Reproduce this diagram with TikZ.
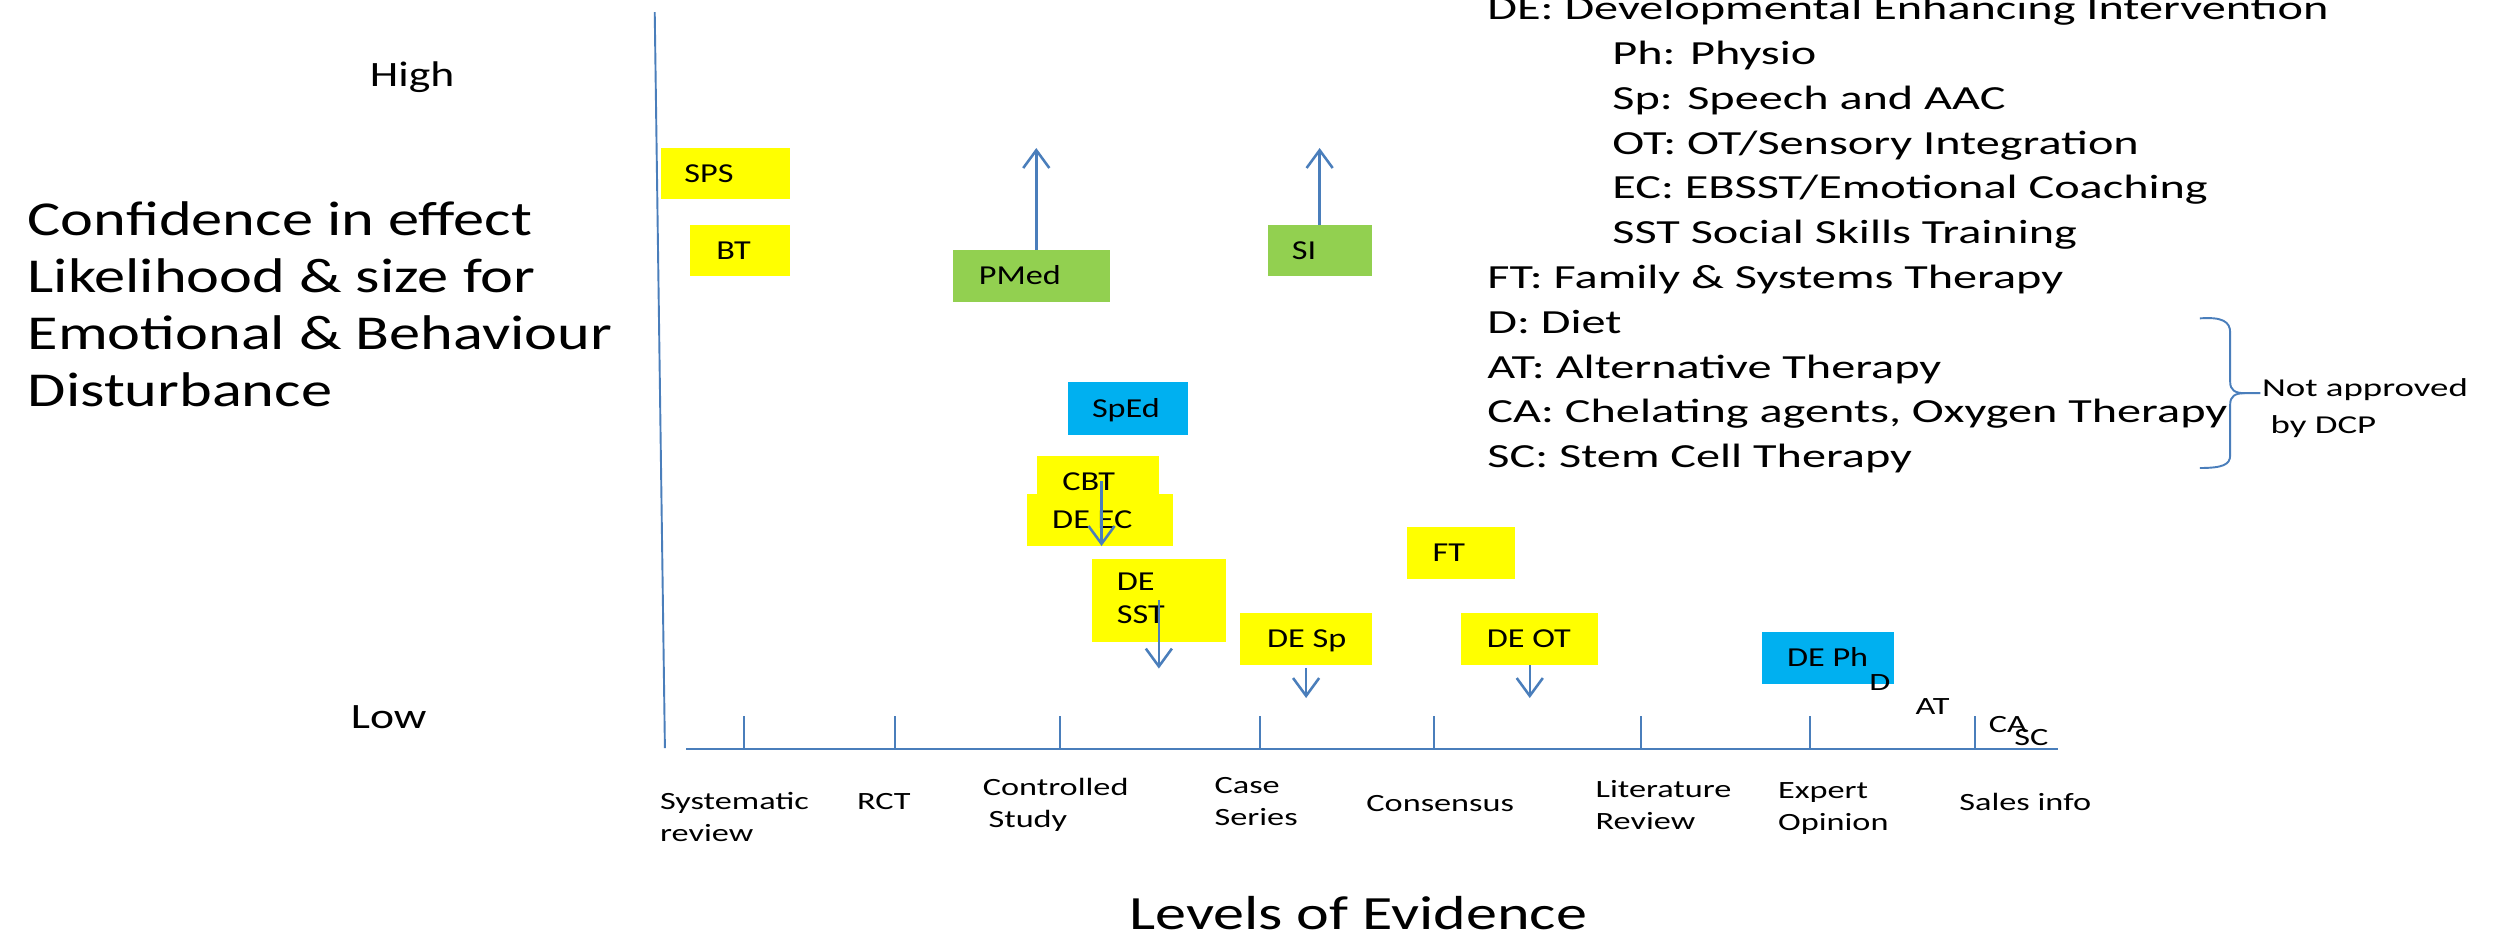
\documentclass[tikz,border=0pt]{standalone}
\usepackage{fontspec}
\setmainfont{Carlito}
% widened faces for the different text groups
\newfontfamily\fbx[FakeStretch=1.25]{Carlito}
\newfontfamily\fax[FakeStretch=1.38]{Carlito}
\newfontfamily\flg[FakeStretch=1.43]{Carlito}
\newfontfamily\fyl[FakeStretch=1.28]{Carlito}
\newfontfamily\fev[FakeStretch=1.3]{Carlito}
\usetikzlibrary{arrows.meta}

\definecolor{axisblue}{RGB}{74,126,187}
\definecolor{ylw}{RGB}{255,255,0}
\definecolor{grn}{RGB}{146,208,80}
\definecolor{cyn}{RGB}{0,176,240}

% fixed-width box content: left offset, then the label
\newcommand\boxtext[3]{\makebox[#1][l]{\hspace*{#2}#3}}
\newcommand\twolines[2]{\begin{tabular}[t]{@{}l@{}}#1\\#2\end{tabular}}

\tikzset{
  ibox/.style={anchor=north west, inner sep=0pt, outer sep=0pt,
    text height=5.5pt, text depth=0pt, font=\fbx\fontsize{8.6}{10.5}\selectfont},
  axisline/.style={draw=axisblue, line width=0.9pt},
  vaxisline/.style={draw=axisblue, line width=0.6pt},
  tickline/.style={draw=axisblue, line width=0.6pt},
  effarrow/.style={draw=axisblue, line width=0.8pt,
    -{Straight Barb[length=5.6pt,width=8.2pt]}},
  bracepath/.style={draw=axisblue, line width=0.6pt},
  evlabel/.style={anchor=base west, inner sep=0pt, font=\fax\fontsize{7.8}{10}\selectfont},
  ylabel/.style={anchor=base west, inner sep=0pt, font=\fyl\fontsize{11.2}{13}\selectfont},
  legendtext/.style={anchor=base west, inner sep=0pt, font=\flg\fontsize{10.6}{14.075}\selectfont},
}

\begin{document}
\begin{tikzpicture}[x=0.5pt, y=-0.5pt]
\useasboundingbox (0,0) rectangle (1568,593);
\fill[white] (0,0) rectangle (1568,593);

% ---- axes ----
\coordinate (vtop) at (411.3,7.6);
\coordinate (vbot) at (417.7,470);
\draw[vaxisline] (vtop) -- (vbot);
\coordinate (hleft) at (431,470.5);
\coordinate (hright) at (1292.7,470.5);
\draw[axisline] (hleft) -- (hright);

\foreach \tx [count=\i] in {467.6,562,666,791.8,901,1031,1136.8,1240.5}{
  \coordinate (tt\i) at (\tx,450);
  \draw[tickline] (tt\i) -- (tt\i |- hleft);
}

% ---- vertical axis labels ----
\node[ylabel] (high) at (232,54.2) {High};
\node[ylabel] (low) at (220,457.6) {Low};
\node[anchor=base west, inner sep=0pt, font=\fyl\fontsize{15.3}{17.9}\selectfont] (yaxis) at (17,147.7)
  {\begin{tabular}[t]{@{}l@{}}Confidence in effect\\Likelihood \& size for\\Emotional \& Behaviour\\Disturbance\end{tabular}};

% ---- evidence levels ----
\node[evlabel] (sysrev) at (414.3,508.6) {\twolines{Systematic}{review}};
\node[evlabel] (rct) at (538,508.6) {RCT};
\node[evlabel] (ctrl) at (617,500) {\twolines{Controlled}{\hspace*{1.8pt}Study}};
\node[evlabel] (cases) at (762.6,498.7) {\twolines{Case}{Series}};
\node[evlabel] (consensus) at (858,509.5) {Consensus};
\node[evlabel] (litrev) at (1002,501) {\twolines{Literature}{Review}};
\node[evlabel] (expert) at (1116.6,501.6) {\twolines{Expert}{Opinion}};
\node[evlabel] (sales) at (1230.5,509) {Sales info};
\node[anchor=base west, inner sep=0pt, font=\fev\fontsize{15}{18}\selectfont] (xaxis) at (709,584) {Levels of Evidence};

% ---- interventions ----
\node[ibox, fill=ylw, minimum height=16pt] (sps) at (415,93) {\boxtext{40.5pt}{7.5pt}{SPS}};
\node[ibox, fill=ylw, minimum height=16.2pt] (bt) at (433.5,141.3) {\boxtext{31.25pt}{8.25pt}{BT}};
\node[ibox, fill=grn, minimum height=16.5pt] (pmed) at (598.6,157) {\boxtext{49.5pt}{8.2pt}{PMed}};
\node[ibox, fill=grn, minimum height=16.2pt] (si) at (796.5,141.3) {\boxtext{32.75pt}{7.5pt}{SI}};
\node[ibox, fill=cyn, minimum height=16.5pt] (sped) at (670.8,240) {\boxtext{37.6pt}{7.6pt}{SpEd}};
\node[ibox, fill=ylw, minimum height=16pt] (cbt) at (651.4,286.4) {\boxtext{38.3pt}{8pt}{CBT}};
\node[ibox, fill=ylw, minimum height=16.4pt] (deec) at (645,310.3) {\boxtext{46pt}{8pt}{DE EC}};
\node[ibox, fill=ylw, minimum height=26pt, text height=, text depth=] (desst) at (686,351)
  {\boxtext{42pt}{7.8pt}{\twolines{DE}{SST}}};
\node[ibox, fill=ylw, minimum height=16.5pt] (desp) at (779,385) {\boxtext{41.5pt}{8.5pt}{DE Sp}};
\node[ibox, fill=ylw, minimum height=16.4pt] (ft) at (883.6,331) {\boxtext{34pt}{8.2pt}{FT}};
\node[ibox, fill=ylw, minimum height=16.5pt] (deot) at (918,385) {\boxtext{43pt}{8pt}{DE OT}};
\node[ibox, fill=cyn, minimum height=16.5pt] (deph) at (1107,397) {\boxtext{41.5pt}{7.8pt}{DE Ph}};

\node[evlabel] (dlab) at (1174,434) {D};
\node[evlabel] (atlab) at (1203,449) {AT};
\node[evlabel] (calab) at (1249,460) {CA};
\node[evlabel] (sclab) at (1265,468.5) {SC};

% ---- direction arrows ----
\coordinate (pmedup) at (651,93);
\draw[effarrow] (pmedup |- pmed.north) -- (pmedup);
\coordinate (siup) at (829,93);
\draw[effarrow] (siup |- si.north) -- (siup);
\coordinate (cbtdown) at (692,343);
\draw[effarrow] (cbtdown |- cbt.center) -- (cbtdown);
\coordinate (sstdown) at (728,420);
\draw[effarrow] (desst.center) -- (sstdown);
\coordinate (spdown) at (820.5,438.5);
\draw[effarrow] (spdown |- desp.south) ++(0,1.6) -- (spdown);
\coordinate (otdown) at (961,438.5);
\draw[effarrow] (otdown |- deot.south) -- (otdown);

% ---- legend ----
\node[legendtext] (legend) at (934,12.3) {\begin{tabular}[t]{@{}l@{}}
DE: Developmental Enhancing Intervention\\
\hspace*{39.25pt}Ph: Physio\\
\hspace*{39.25pt}Sp: Speech and AAC\\
\hspace*{39.25pt}OT: OT/Sensory Integration\\
\hspace*{39.25pt}EC: EBSST/Emotional Coaching\\
\hspace*{39.25pt}SST Social Skills Training\\
FT: Family \& Systems Therapy\\
D: Diet\\
AT: Alternative Therapy\\
CA: Chelating agents, Oxygen Therapy\\
SC: Stem Cell Therapy
\end{tabular}};

% brace grouping the last four entries
\coordinate (bracetip) at (1420,247);
\draw[bracepath] (1382,200) .. controls (1396,199) and (1401,202) .. (1401,209)
  -- (1401,240) .. controls (1401,245) and (1404,247) .. (1410,247) -- (bracetip);
\draw[bracepath] (1410,247) .. controls (1404,247) and (1401,249) .. (1401,254)
  -- (1401,286) .. controls (1401,292) and (1396,294) .. (1382,294);
\node[anchor=base west, inner sep=0pt, font=\flg\fontsize{8.1}{11.5}\selectfont] (notappr) at (1420.6,249.2)
  {\twolines{Not approved}{\hspace*{2.7pt}by DCP}};
\end{tikzpicture}
\end{document}
